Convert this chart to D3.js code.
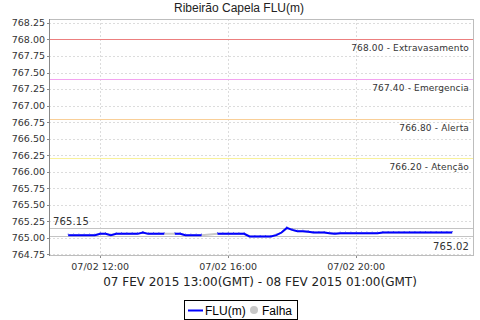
<!DOCTYPE html>
<html>
<head>
<meta charset="utf-8">
<script src="https://d3js.org/d3.v7.min.js"></script>
<style>
  body { margin: 0; background: #fff; }
  svg { display: block; }
  .tick-label { font: 9.5px "DejaVu Sans", sans-serif; fill: #333; }
  .limit-label { font: 9px "DejaVu Sans", sans-serif; fill: #333; letter-spacing: 0.15px; }
</style>
</head>
<body>
<svg width="480" height="320"></svg>
<script>
// readings every 10 minutes, 07/02/2015 11:00 to 23:00 local (null = falha)
var startTime = "2015-02-07T11:00";
var stepMinutes = 10;
var levels = [
  765.04, 765.04, 765.04, 765.04, 765.04, 765.04, 765.06, 765.06, 765.04, 765.06,
  765.06, 765.06, 765.06, 765.06, 765.08, 765.06, 765.06, 765.06, 765.06, null,
  765.06, 765.06, 765.04, 765.04, 765.04, 765.04, null, null, 765.06, 765.06,
  765.06, 765.06, 765.06, 765.06, 765.02, 765.02, 765.02, 765.02, 765.02, 765.04,
  765.08, 765.15, 765.12, 765.10, 765.10, 765.09, 765.08, 765.08, 765.08, 765.07,
  765.06, 765.07, 765.07, 765.07, 765.07, 765.07, 765.07, 765.07, 765.07, 765.08,
  765.08, 765.08, 765.08, 765.08, 765.08, 765.08, 765.08, 765.08, 765.08, 765.08,
  765.08, 765.08, 765.08
];

var limitValues = [768.00, 767.40, 766.80, 766.20];
var limitNames = ["Extravasamento", "Emergencia", "Alerta", "Atenção"];
var limitColors = ["#ec7f7f", "#f3a3f0", "#f9cf98", "#f8f19c"];

var yTicks = [764.75, 765.00, 765.25, 765.50, 765.75, 766.00, 766.25, 766.50,
              766.75, 767.00, 767.25, 767.50, 767.75, 768.00, 768.25];
var xTickHours = ["2015-02-07T12:00", "2015-02-07T16:00", "2015-02-07T20:00"];
var xDomain = ["2015-02-07T10:24", "2015-02-07T23:39"];

var title = "Ribeirão Capela FLU(m)";
var periodLabel = "07 FEV 2015 13:00(GMT) - 08 FEV 2015 01:00(GMT)";

var parse = d3.utcParse("%Y-%m-%dT%H:%M");
var t0 = parse(startTime);
var data = levels.map(function (v, i) {
  return { t: new Date(+t0 + i * stepMinutes * 60000), v: v };
});
var maxV = d3.max(levels), minV = d3.min(levels);

var svg = d3.select("svg");
var pLeft = 49, pRight = 473, pTop = 19, pBottom = 255;

var x = d3.scaleUtc().domain(xDomain.map(parse)).range([pLeft, pRight]);
var y = d3.scaleLinear().domain([764.74, 768.31]).range([pBottom, pTop]);

// title
svg.append("text")
  .attr("x", 239).attr("y", 12)
  .attr("text-anchor", "middle")
  .style("font", "12px 'Liberation Sans', Arial, sans-serif")
  .style("fill", "#222")
  .text(title);

// grid
var grid = svg.append("g")
  .attr("stroke", "#dcdcdc")
  .attr("stroke-dasharray", "2,2")
  .attr("stroke-width", 1);
grid.selectAll(".hg").data(yTicks).enter().append("line")
  .attr("x1", pLeft).attr("x2", pRight)
  .attr("y1", function (d) { return Math.round(y(d)) + 0.5; })
  .attr("y2", function (d) { return Math.round(y(d)) + 0.5; });
grid.selectAll(".vg").data(xTickHours.map(parse)).enter().append("line")
  .attr("y1", pTop).attr("y2", pBottom)
  .attr("x1", function (d) { return Math.round(x(d)) + 0.5; })
  .attr("x2", function (d) { return Math.round(x(d)) + 0.5; });

// plot outline
svg.append("rect")
  .attr("x", pLeft + 0.5).attr("y", pTop + 0.5)
  .attr("width", pRight - pLeft).attr("height", pBottom - pTop)
  .attr("fill", "none").attr("stroke", "#bdbdbd");

// limit lines
limitValues.forEach(function (v, i) {
  var yy = Math.round(y(v)) + 0.5;
  svg.append("line")
    .attr("x1", pLeft).attr("x2", pRight).attr("y1", yy).attr("y2", yy)
    .attr("stroke", limitColors[i]).attr("stroke-width", 1.2);
  svg.append("text").attr("class", "limit-label")
    .attr("x", pRight - 4).attr("y", yy + 11)
    .attr("text-anchor", "end")
    .text(v.toFixed(2) + " - " + limitNames[i]);
});

// max / min lines
[maxV, minV].forEach(function (v, i) {
  var yy = Math.round(y(v)) + 0.5;
  svg.append("line")
    .attr("x1", pLeft).attr("x2", pRight).attr("y1", yy).attr("y2", yy)
    .attr("stroke", "#c4c4c4").attr("stroke-width", 1.2);
  svg.append("text").attr("class", "limit-label")
    .style("font-size", "10px")
    .attr("x", i === 0 ? pLeft + 4 : pRight - 4)
    .attr("y", i === 0 ? yy - 4 : yy + 13)
    .attr("text-anchor", i === 0 ? "start" : "end")
    .text(v.toFixed(2));
});

// falha segments (grey) under the series
var lineAll = d3.line()
  .x(function (d) { return x(d.t); })
  .y(function (d) { return y(d.v); });
svg.append("path")
  .datum(data.filter(function (d) { return d.v !== null; }))
  .attr("d", lineAll)
  .attr("fill", "none").attr("stroke", "#c8c8c8").attr("stroke-width", 2);

var line = d3.line()
  .defined(function (d) { return d.v !== null; })
  .x(function (d) { return x(d.t); })
  .y(function (d) { return y(d.v); });
svg.append("path")
  .datum(data)
  .attr("d", line)
  .attr("fill", "none").attr("stroke", "#0000ff").attr("stroke-width", 2);

svg.selectAll(".mk").data(data.filter(function (d) { return d.v !== null; }))
  .enter().append("rect")
  .attr("x", function (d) { return x(d.t) - 0.5; })
  .attr("y", function (d) { return y(d.v) - 1.5; })
  .attr("width", 1).attr("height", 1)
  .attr("fill", "#3a3aff");

// y axis
svg.append("line")
  .attr("x1", pLeft + 0.5).attr("x2", pLeft + 0.5).attr("y1", pTop).attr("y2", pBottom + 1)
  .attr("stroke", "#888");
var yAx = svg.append("g");
yAx.selectAll("line").data(yTicks).enter().append("line")
  .attr("x1", pLeft - 2).attr("x2", pLeft)
  .attr("y1", function (d) { return Math.round(y(d)) + 0.5; })
  .attr("y2", function (d) { return Math.round(y(d)) + 0.5; })
  .attr("stroke", "#888");
yAx.selectAll("text").data(yTicks).enter().append("text")
  .attr("class", "tick-label")
  .attr("x", pLeft - 4)
  .attr("y", function (d) { return y(d); })
  .attr("dy", "0.36em")
  .attr("text-anchor", "end")
  .text(function (d) { return d.toFixed(2); });

// x axis
var fmt = d3.utcFormat("%d/%m %H:%M");
var xAx = svg.append("g");
xAx.selectAll("line").data(xTickHours.map(parse)).enter().append("line")
  .attr("x1", function (d) { return Math.round(x(d)) + 0.5; })
  .attr("x2", function (d) { return Math.round(x(d)) + 0.5; })
  .attr("y1", pBottom + 1).attr("y2", pBottom + 3)
  .attr("stroke", "#888");
xAx.selectAll("text").data(xTickHours.map(parse)).enter().append("text")
  .attr("class", "tick-label")
  .attr("x", function (d) { return x(d); })
  .attr("y", 270)
  .attr("text-anchor", "middle")
  .text(function (d) { return fmt(d); });

svg.append("text")
  .attr("x", 260).attr("y", 286)
  .attr("text-anchor", "middle")
  .style("font", "12px 'DejaVu Sans', sans-serif")
  .style("fill", "#222")
  .text(periodLabel);

// legend
var lg = svg.append("g").attr("transform", "translate(184,300)");
lg.append("rect").attr("x", 0.5).attr("y", 0.5).attr("width", 113).attr("height", 19)
  .attr("fill", "#fff").attr("stroke", "#000");
lg.append("line").attr("x1", 4).attr("x2", 19).attr("y1", 10.5).attr("y2", 10.5)
  .attr("stroke", "#0000ff").attr("stroke-width", 2);
lg.append("text").attr("x", 21).attr("y", 14.5)
  .style("font", "12px 'Liberation Sans', Arial, sans-serif").text("FLU(m)");
lg.append("circle").attr("cx", 70).attr("cy", 10).attr("r", 4).attr("fill", "#c8c8c8");
lg.append("text").attr("x", 78).attr("y", 14.5)
  .style("font", "12px 'Liberation Sans', Arial, sans-serif").text("Falha");
</script>
</body>
</html>
